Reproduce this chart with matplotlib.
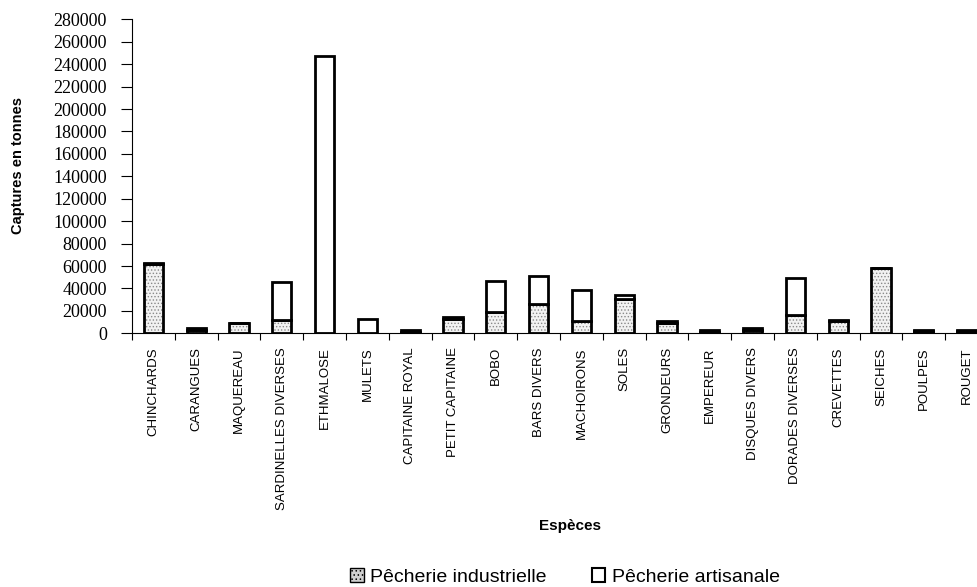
import numpy as np
import matplotlib.pyplot as plt
from matplotlib.patches import Patch

# Captures par espèce (tonnes)
especes = ['CHINCHARDS', 'CARANGUES', 'MAQUEREAU', 'SARDINELLES DIVERSES', 'ETHMALOSE',
           'MULETS', 'CAPITAINE ROYAL', 'PETIT CAPITAINE', 'BOBO', 'BARS DIVERS',
           'MACHOIRONS', 'SOLES', 'GRONDEURS', 'EMPEREUR', 'DISQUES DIVERS',
           'DORADES DIVERSES', 'CREVETTES', 'SEICHES', 'POULPES', 'ROUGET']
industrielle = [62000, 3000, 9000, 11500, 0, 0, 1000, 13000, 19000, 26000,
                11000, 31000, 9000, 1000, 3000, 16500, 11000, 58000, 2000, 2000]
artisanale = [500, 1500, 500, 34500, 247000, 12500, 1500, 1200, 28000, 25500,
              27500, 3000, 2000, 1500, 1500, 32500, 500, 500, 500, 800]
yticks = np.arange(0, 280001, 20000)

plt.rcParams['font.family'] = ['Liberation Sans', 'DejaVu Sans']
plt.rcParams['hatch.linewidth'] = 0.6
fig = plt.figure(figsize=(9.78, 5.87), dpi=100)
ax = fig.add_axes([132 / 978, 1 - 333.3 / 587, 856 / 978, 314 / 587])

x = np.arange(len(especes))
w = 0.45
ind = np.array(industrielle)
art = np.array(artisanale)

# remplissage pointillé (partie industrielle)
ax.bar(x, ind, w, color='#f2f2f2', edgecolor='#8a8a8a', hatch='.....', linewidth=0)
ax.bar(x, ind, w, color='none', edgecolor='black', linewidth=2)
ax.bar(x, art, w, bottom=ind, color='white', edgecolor='black', linewidth=2)

ax.set_xlim(-0.5, len(especes) - 0.5)
ax.set_ylim(0, 280000)
ax.set_yticks(yticks)
ax.set_yticklabels([str(v) for v in yticks])
ax.tick_params(axis='y', direction='out', length=8, width=0.8, pad=10)
for t in ax.get_yticklabels():
    t.set_fontfamily(['Liberation Serif', 'DejaVu Serif'])
    t.set_fontsize(13)

ax.set_xticks(np.arange(-0.5, len(especes), 1))
ax.set_xticklabels([])
ax.set_xticks(x, minor=True)
ax.set_xticklabels(especes, minor=True, rotation=90)
ax.tick_params(axis='x', which='major', direction='out', length=5, width=0.8)
ax.tick_params(axis='x', which='minor', length=0, pad=10, labelsize=9.5)

for s in ['top', 'right']:
    ax.spines[s].set_visible(False)
for s in ['left', 'bottom']:
    ax.spines[s].set_linewidth(0.8)

fig.text(18 / 978, 1 - 165 / 587, 'Captures en tonnes', rotation=90, ha='center', va='center',
         fontweight='bold', fontsize=10.5)
fig.text(570 / 978, 1 - 526 / 587, 'Espèces', ha='center', va='center',
         fontweight='bold', fontsize=11)

handles = [Patch(facecolor='#d0d0d0', edgecolor='black', hatch='....', linewidth=1),
           Patch(facecolor='white', edgecolor='black', linewidth=1.5)]
fig.legend(handles, ['Pêcherie industrielle', 'Pêcherie artisanale'],
           loc='center', bbox_to_anchor=(565 / 978, 1 - 577 / 587), ncol=2, frameon=False,
           prop={'size': 14}, handlelength=0.7, handleheight=0.7,
           handletextpad=0.35, columnspacing=2.3, borderpad=0.1)

fig.savefig('out.png', dpi=100)
